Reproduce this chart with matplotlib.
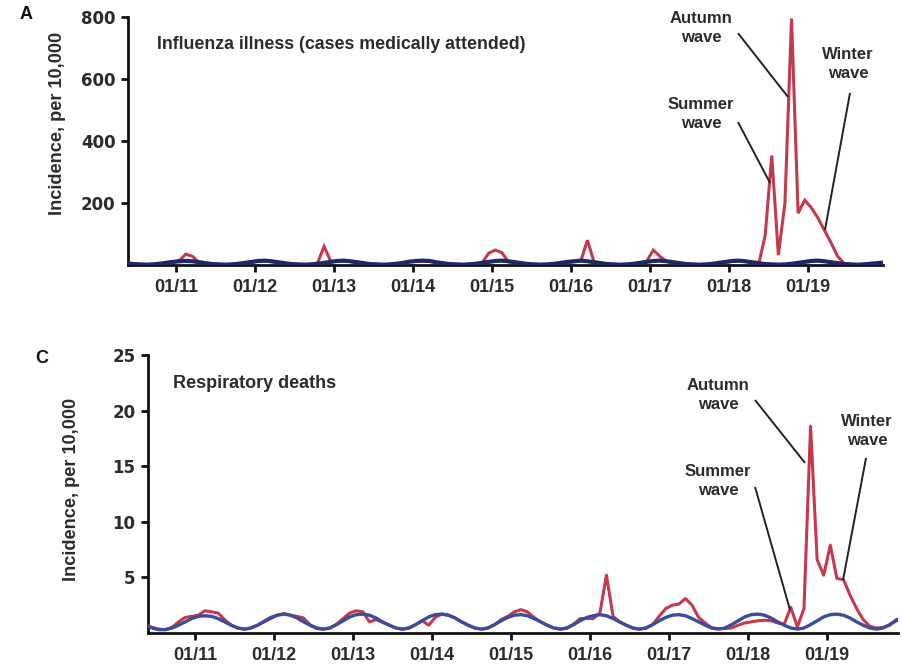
import numpy as np
import pandas as pd
import matplotlib
matplotlib.use("Agg")
import matplotlib.pyplot as plt

plt.rcParams["font.family"] = ["Liberation Sans", "DejaVu Sans"]
plt.rcParams["font.weight"] = "bold"

# Monthly observations, May 1910 - Dec 1919
months = pd.period_range("1910-05", "1919-12", freq="M")

# Influenza illness, cases medically attended (per 10,000)
flu_cases = [
    5, 3, 2, 1, 2, 4, 6, 9,                                  # 1910 (May-Dec)
    14, 35, 28, 8, 5, 3, 2, 1, 2, 4, 6, 9,                   # 1911
    12, 13, 11, 8, 5, 3, 2, 1, 2, 6, 60, 12,                 # 1912
    12, 13, 11, 8, 5, 3, 2, 1, 2, 4, 6, 10,                  # 1913
    12, 13, 12, 8, 5, 3, 2, 1, 2, 4, 7, 38,                  # 1914
    48, 40, 10, 8, 5, 3, 2, 1, 2, 4, 6, 9,                   # 1915
    11, 14, 80, 10, 5, 3, 2, 1, 2, 4, 6, 12,                 # 1916
    48, 28, 12, 8, 5, 3, 2, 1, 2, 4, 6, 9,                   # 1917
    12, 13, 11, 8, 1, 96, 353, 32, 200, 795, 167, 209,       # 1918
    185, 152, 112, 72, 28, 5, 2, 1, 2, 3, 5, 7,              # 1919
]
flu_expected = [
    6, 3, 2, 1, 2, 4, 7, 10,
    12, 13, 12, 9, 6, 3, 2, 1, 2, 4, 7, 10,
    13, 14, 12, 9, 6, 3, 2, 1, 2, 4, 7, 10,
    13, 14, 12, 9, 6, 3, 2, 1, 2, 4, 7, 11,
    13, 14, 13, 9, 6, 3, 2, 1, 2, 4, 7, 10,
    13, 14, 12, 9, 6, 3, 2, 1, 2, 4, 7, 10,
    12, 14, 12, 9, 6, 3, 2, 1, 2, 4, 7, 10,
    13, 14, 12, 9, 6, 3, 2, 1, 2, 4, 7, 10,
    13, 14, 12, 9, 6, 3, 2, 1, 2, 4, 7, 10,
    13, 14, 12, 9, 6, 3, 2, 1, 2, 4, 6, 8,
]

# Respiratory deaths (per 10,000)
resp_deaths = [
    0.75, 0.5, 0.35, 0.3, 0.5, 1.0, 1.4, 1.5,
    1.6, 2.0, 1.9, 1.8, 1.2, 0.7, 0.45, 0.35, 0.45, 0.7, 1.0, 1.3,
    1.6, 1.75, 1.6, 1.5, 1.35, 0.7, 0.4, 0.35, 0.45, 0.8, 1.3, 1.8,
    2.0, 1.9, 1.0, 1.2, 0.95, 0.7, 0.45, 0.35, 0.45, 0.75, 1.1, 0.7,
    1.4, 1.7, 1.6, 1.35, 1.0, 0.7, 0.45, 0.35, 0.45, 0.75, 1.2, 1.5,
    1.9, 2.1, 1.9, 1.4, 1.0, 0.7, 0.45, 0.35, 0.45, 0.8, 1.3, 1.3,
    1.3, 1.8, 5.2, 1.5, 1.0, 0.7, 0.45, 0.35, 0.45, 0.75, 1.5, 2.2,
    2.5, 2.6, 3.1, 2.5, 1.4, 0.9, 0.45, 0.4, 0.4, 0.45, 0.7, 0.9,
    1.0, 1.1, 1.15, 1.1, 0.9, 0.8, 2.3, 0.55, 2.2, 18.6, 6.6, 5.2,
    7.9, 4.9, 4.8, 3.4, 2.2, 1.2, 0.6, 0.45, 0.5, 0.7, 1.2, 1.4,
]
resp_expected = [
    0.65, 0.45, 0.3, 0.3, 0.45, 0.7, 1.0, 1.3,
    1.5, 1.55, 1.5, 1.3, 1.0, 0.7, 0.45, 0.35, 0.45, 0.7, 1.05, 1.4,
    1.6, 1.7, 1.6, 1.35, 1.0, 0.7, 0.45, 0.35, 0.45, 0.75, 1.1, 1.45,
    1.65, 1.7, 1.6, 1.35, 1.0, 0.7, 0.45, 0.35, 0.45, 0.75, 1.1, 1.45,
    1.65, 1.7, 1.6, 1.35, 1.0, 0.7, 0.45, 0.35, 0.45, 0.75, 1.1, 1.4,
    1.6, 1.65, 1.55, 1.3, 1.0, 0.7, 0.45, 0.35, 0.45, 0.75, 1.1, 1.4,
    1.55, 1.65, 1.55, 1.3, 1.0, 0.7, 0.45, 0.35, 0.45, 0.75, 1.1, 1.4,
    1.6, 1.65, 1.55, 1.3, 1.0, 0.7, 0.45, 0.35, 0.45, 0.75, 1.1, 1.45,
    1.65, 1.7, 1.6, 1.35, 1.0, 0.7, 0.45, 0.35, 0.45, 0.75, 1.1, 1.45,
    1.65, 1.7, 1.6, 1.35, 1.0, 0.7, 0.45, 0.35, 0.45, 0.75, 1.1, 1.4,
]

tick_years = list(range(1911, 1920))
tick_labels = ["01/11", "01/12", "01/13", "01/14", "01/15",
               "01/16", "01/17", "01/18", "01/19"]

t = months.year.values + (months.month.values - 0.5) / 12.0

RED = "#c43a4c"
NAVY = "#1c2867"
BLUE = "#3a4c9e"
INK = "#2b2b2b"

fig = plt.figure(figsize=(9.03, 6.69), dpi=100)
ax1 = fig.add_axes([0.1417, 0.6039, 0.8361, 0.3707])
ax2 = fig.add_axes([0.1639, 0.0538, 0.8306, 0.4156])


def style_axis(ax, ymax, yticks):
    for side in ("top", "right"):
        ax.spines[side].set_visible(False)
    for side in ("left", "bottom"):
        ax.spines[side].set_linewidth(2.0)
        ax.spines[side].set_color("#111111")
    ax.set_ylim(0, ymax)
    ax.set_yticks(yticks)
    ax.set_xticks(tick_years)
    ax.set_xticklabels(tick_labels, fontsize=13, fontweight="bold",
                       family=["Liberation Sans", "DejaVu Sans"], color=INK)
    ax.set_yticklabels([str(v) for v in yticks], fontsize=12,
                       fontweight="bold", family="DejaVu Sans", color=INK)
    ax.tick_params(axis="both", direction="out", length=5, width=2,
                   color="#111111")
    ax.tick_params(axis="x", pad=5)
    ax.tick_params(axis="y", pad=4)


# Panel A: influenza illness
ax1.plot(t, flu_cases, color=RED, lw=2.2, solid_joinstyle="miter", zorder=3)
ax1.plot(t, flu_expected, color=NAVY, lw=3.0, zorder=4)
ax1.set_xlim(1910.392, 1919.949)
style_axis(ax1, 800, [200, 400, 600, 800])
ax1.text(1910.76, 712, "Influenza illness (cases medically attended)",
         fontsize=12.8, fontweight="bold", color=INK, va="center", ha="left")

txt = dict(fontsize=12, fontweight="bold", color=INK, ha="center",
           va="center", linespacing=1.3)
lead = dict(color="#222222", lw=1.4, solid_capstyle="butt", zorder=5)
ax1.text(1917.646, 765, "Autumn\nwave", **txt)
ax1.plot([1918.114, 1918.747], [748, 542], **lead)
ax1.text(1917.646, 487, "Summer\nwave", **txt)
ax1.plot([1918.114, 1918.519], [461, 265], **lead)
ax1.text(1919.506, 648, "Winter\nwave", **txt)
ax1.plot([1919.532, 1919.215], [555, 113], **lead)

# Panel C: respiratory deaths
ax2.plot(t, resp_deaths, color=RED, lw=2.2, zorder=3)
ax2.plot(t, resp_expected, color=BLUE, lw=2.4, zorder=4)
ax2.set_xlim(1910.405, 1919.899)
style_axis(ax2, 25, [5, 10, 15, 20, 25])
ax2.text(1910.72, 22.4, "Respiratory deaths", fontsize=13,
         fontweight="bold", color=INK, va="center", ha="left")

ax2.text(1917.62, 21.4, "Autumn\nwave", **txt)
ax2.plot([1918.089, 1918.722], [20.95, 15.29], **lead)
ax2.text(1917.62, 13.67, "Summer\nwave", **txt)
ax2.plot([1918.089, 1918.532], [13.13, 2.07], **lead)
ax2.text(1919.506, 18.17, "Winter\nwave", **txt)
ax2.plot([1919.494, 1919.203], [15.74, 4.77], **lead)

# Panel letters and axis titles
fig.text(0.0288, 0.9776, "A", fontsize=13, fontweight="bold", color="#111111",
         ha="center", va="center")
fig.text(0.0465, 0.4634, "C", fontsize=13, fontweight="bold", color="#111111",
         ha="center", va="center")
fig.text(0.0642, 0.816, "Incidence, per 10,000", rotation=90, fontsize=13.1,
         fontweight="bold", color=INK, ha="center", va="center")
fig.text(0.0797, 0.269, "Incidence, per 10,000", rotation=90, fontsize=13.1,
         fontweight="bold", color=INK, ha="center", va="center")

fig.savefig("out.png", dpi=100)
